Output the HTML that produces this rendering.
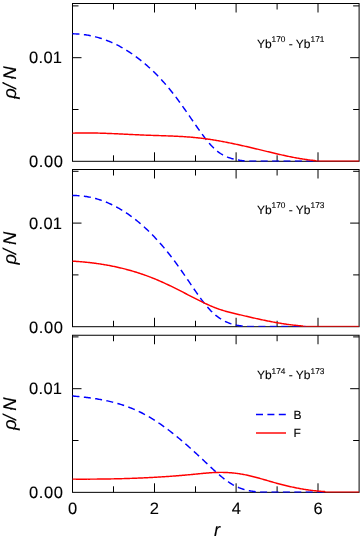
<!DOCTYPE html>
<html><head><meta charset="utf-8"><title>plot</title>
<style>
html,body{margin:0;padding:0;background:#fff;}
body{width:363px;height:538px;overflow:hidden;}
svg{display:block;will-change:transform;}
text{font-family:"Liberation Sans",sans-serif;fill:#000;text-rendering:geometricPrecision;stroke:#000;stroke-width:0.12px;}
.ax{stroke:#000;stroke-width:1;fill:none;shape-rendering:auto;}
.tk{stroke:#000;stroke-width:1;fill:none;}
.b{stroke:#0000ff;stroke-width:1.45;fill:none;stroke-dasharray:7 4.4;}
.r{stroke:#ff0000;stroke-width:1.45;fill:none;}
.t16{font-size:16.5px;}
.t12{font-size:12px;}
.sup{font-size:8.3px;}
.it{font-style:italic;font-size:18.4px;}
</style></head><body>
<svg width="363" height="538" viewBox="0 0 363 538">
<rect x="0" y="0" width="363" height="538" fill="#fff"/>

<g>
<rect class="ax" x="72.5" y="3.5" width="286.6" height="157.8"/>
<path class="tk" d="M113.5,161.3v-6 M113.5,3.5v6 M154.5,161.3v-9 M154.5,3.5v9 M195.5,161.3v-6 M195.5,3.5v6 M236.1,161.3v-9 M236.1,3.5v9 M277.1,161.3v-6 M277.1,3.5v6 M318.0,161.3v-9 M318.0,3.5v9 M72.5,109.5h6 M359.15,109.5h-6 M72.5,57.7h9 M359.15,57.7h-9 M72.5,5.9h6 M359.15,5.9h-6"/>
<path class="b" d="M72.5,33.80 L73.5,33.82 L74.5,33.85 L75.5,33.89 L76.5,33.93 L77.5,33.99 L78.5,34.06 L79.5,34.14 L80.5,34.23 L81.5,34.33 L82.5,34.44 L83.5,34.56 L84.5,34.69 L85.5,34.83 L86.5,34.98 L87.5,35.14 L88.5,35.32 L89.5,35.50 L90.5,35.69 L91.5,35.90 L92.5,36.12 L93.5,36.34 L94.5,36.58 L95.5,36.83 L96.5,37.09 L97.5,37.36 L98.5,37.65 L99.5,37.94 L100.5,38.25 L101.5,38.56 L102.5,38.89 L103.5,39.23 L104.5,39.58 L105.5,39.94 L106.5,40.32 L107.5,40.70 L108.5,41.10 L109.5,41.50 L110.5,41.92 L111.5,42.36 L112.5,42.80 L113.5,43.25 L114.5,43.72 L115.5,44.20 L116.5,44.69 L117.5,45.19 L118.5,45.71 L119.5,46.23 L120.5,46.77 L121.5,47.32 L122.5,47.88 L123.5,48.46 L124.5,49.05 L125.5,49.64 L126.5,50.26 L127.5,50.88 L128.5,51.52 L129.5,52.17 L130.5,52.83 L131.5,53.50 L132.5,54.19 L133.5,54.89 L134.5,55.60 L135.5,56.32 L136.5,57.06 L137.5,57.81 L138.5,58.57 L139.5,59.35 L140.5,60.14 L141.5,60.94 L142.5,61.76 L143.5,62.58 L144.5,63.42 L145.5,64.28 L146.5,65.15 L147.5,66.03 L148.5,66.92 L149.5,67.83 L150.5,68.75 L151.5,69.68 L152.5,70.63 L153.5,71.59 L154.5,72.57 L155.5,73.56 L156.5,74.56 L157.5,75.58 L158.5,76.61 L159.5,77.66 L160.5,78.72 L161.5,79.80 L162.5,80.89 L163.5,82.00 L164.5,83.13 L165.5,84.27 L166.5,85.42 L167.5,86.60 L168.5,87.78 L169.5,88.99 L170.5,90.21 L171.5,91.45 L172.5,92.70 L173.5,93.98 L174.5,95.26 L175.5,96.57 L176.5,97.89 L177.5,99.23 L178.5,100.59 L179.5,101.96 L180.5,103.34 L181.5,104.74 L182.5,106.14 L183.5,107.56 L184.5,108.98 L185.5,110.41 L186.5,111.84 L187.5,113.29 L188.5,114.73 L189.5,116.18 L190.5,117.63 L191.5,119.08 L192.5,120.52 L193.5,121.97 L194.5,123.41 L195.5,124.85 L196.5,126.28 L197.5,127.71 L198.5,129.12 L199.5,130.53 L200.5,131.93 L201.5,133.31 L202.5,134.68 L203.5,136.03 L204.5,137.36 L205.5,138.66 L206.5,139.93 L207.5,141.18 L208.5,142.39 L209.5,143.57 L210.5,144.71 L211.5,145.81 L212.5,146.86 L213.5,147.86 L214.5,148.82 L215.5,149.73 L216.5,150.58 L217.5,151.38 L218.5,152.14 L219.5,152.84 L220.5,153.51 L221.5,154.13 L222.5,154.71 L223.5,155.25 L224.5,155.76 L225.5,156.23 L226.5,156.67 L227.5,157.08 L228.5,157.46 L229.5,157.81 L230.5,158.13 L231.5,158.44 L232.5,158.72 L233.5,158.98 L234.5,159.23 L235.5,159.45 L236.5,159.67 L237.5,159.87 L238.5,160.05 L239.5,160.22 L240.5,160.38 L241.5,160.52 L242.5,160.66 L243.5,160.78 L244.5,160.90"/>
<path class="b" d="M244.5,160.90 L318.5,160.90" stroke-dashoffset="6.61" stroke-opacity="0.72"/>
<path class="r" d="M72.5,133.18 L73.5,133.15 L74.5,133.11 L75.5,133.08 L76.5,133.06 L77.5,133.04 L78.5,133.01 L79.5,133.00 L80.5,132.98 L81.5,132.97 L82.5,132.96 L83.5,132.95 L84.5,132.95 L85.5,132.95 L86.5,132.95 L87.5,132.95 L88.5,132.96 L89.5,132.96 L90.5,132.97 L91.5,132.98 L92.5,133.00 L93.5,133.01 L94.5,133.03 L95.5,133.05 L96.5,133.07 L97.5,133.09 L98.5,133.12 L99.5,133.14 L100.5,133.17 L101.5,133.20 L102.5,133.23 L103.5,133.26 L104.5,133.30 L105.5,133.33 L106.5,133.37 L107.5,133.41 L108.5,133.45 L109.5,133.48 L110.5,133.53 L111.5,133.57 L112.5,133.61 L113.5,133.65 L114.5,133.70 L115.5,133.74 L116.5,133.79 L117.5,133.83 L118.5,133.88 L119.5,133.93 L120.5,133.97 L121.5,134.02 L122.5,134.07 L123.5,134.12 L124.5,134.17 L125.5,134.22 L126.5,134.27 L127.5,134.31 L128.5,134.36 L129.5,134.41 L130.5,134.46 L131.5,134.51 L132.5,134.56 L133.5,134.61 L134.5,134.65 L135.5,134.70 L136.5,134.75 L137.5,134.79 L138.5,134.84 L139.5,134.89 L140.5,134.93 L141.5,134.97 L142.5,135.02 L143.5,135.06 L144.5,135.10 L145.5,135.14 L146.5,135.18 L147.5,135.22 L148.5,135.25 L149.5,135.29 L150.5,135.32 L151.5,135.36 L152.5,135.39 L153.5,135.42 L154.5,135.46 L155.5,135.49 L156.5,135.52 L157.5,135.55 L158.5,135.59 L159.5,135.62 L160.5,135.65 L161.5,135.68 L162.5,135.72 L163.5,135.75 L164.5,135.78 L165.5,135.82 L166.5,135.85 L167.5,135.89 L168.5,135.92 L169.5,135.96 L170.5,136.00 L171.5,136.04 L172.5,136.08 L173.5,136.12 L174.5,136.17 L175.5,136.21 L176.5,136.26 L177.5,136.31 L178.5,136.36 L179.5,136.41 L180.5,136.47 L181.5,136.52 L182.5,136.58 L183.5,136.65 L184.5,136.71 L185.5,136.78 L186.5,136.85 L187.5,136.92 L188.5,136.99 L189.5,137.07 L190.5,137.15 L191.5,137.23 L192.5,137.32 L193.5,137.41 L194.5,137.50 L195.5,137.60 L196.5,137.70 L197.5,137.81 L198.5,137.91 L199.5,138.02 L200.5,138.14 L201.5,138.26 L202.5,138.38 L203.5,138.51 L204.5,138.64 L205.5,138.77 L206.5,138.91 L207.5,139.05 L208.5,139.19 L209.5,139.34 L210.5,139.49 L211.5,139.64 L212.5,139.80 L213.5,139.96 L214.5,140.12 L215.5,140.29 L216.5,140.46 L217.5,140.63 L218.5,140.80 L219.5,140.98 L220.5,141.16 L221.5,141.34 L222.5,141.52 L223.5,141.71 L224.5,141.90 L225.5,142.09 L226.5,142.29 L227.5,142.48 L228.5,142.68 L229.5,142.88 L230.5,143.09 L231.5,143.29 L232.5,143.50 L233.5,143.71 L234.5,143.92 L235.5,144.13 L236.5,144.35 L237.5,144.56 L238.5,144.78 L239.5,145.00 L240.5,145.22 L241.5,145.44 L242.5,145.67 L243.5,145.89 L244.5,146.12 L245.5,146.35 L246.5,146.58 L247.5,146.81 L248.5,147.04 L249.5,147.27 L250.5,147.51 L251.5,147.74 L252.5,147.98 L253.5,148.22 L254.5,148.45 L255.5,148.69 L256.5,148.93 L257.5,149.17 L258.5,149.41 L259.5,149.65 L260.5,149.89 L261.5,150.13 L262.5,150.37 L263.5,150.62 L264.5,150.86 L265.5,151.10 L266.5,151.34 L267.5,151.58 L268.5,151.82 L269.5,152.07 L270.5,152.31 L271.5,152.54 L272.5,152.78 L273.5,153.02 L274.5,153.26 L275.5,153.49 L276.5,153.73 L277.5,153.96 L278.5,154.19 L279.5,154.42 L280.5,154.65 L281.5,154.88 L282.5,155.10 L283.5,155.32 L284.5,155.54 L285.5,155.76 L286.5,155.97 L287.5,156.19 L288.5,156.40 L289.5,156.60 L290.5,156.81 L291.5,157.01 L292.5,157.21 L293.5,157.40 L294.5,157.60 L295.5,157.78 L296.5,157.97 L297.5,158.15 L298.5,158.33 L299.5,158.50 L300.5,158.67 L301.5,158.83 L302.5,158.99 L303.5,159.15 L304.5,159.30 L305.5,159.45 L306.5,159.59 L307.5,159.73 L308.5,159.86 L309.5,159.99 L310.5,160.11 L311.5,160.23 L312.5,160.34 L313.5,160.45 L314.5,160.55 L315.5,160.64 L316.5,160.90"/>
<path class="r" d="M316.5,160.90 L317.5,160.90 L318.5,160.90 L319.5,160.90 L320.5,160.90 L321.5,160.90 L322.5,160.90 L323.5,160.90 L324.5,160.90 L325.5,160.90 L326.5,160.90 L327.5,160.90 L328.5,160.90 L329.5,160.90 L330.5,160.90 L331.5,160.90 L332.5,160.90 L333.5,160.90 L334.5,160.90 L335.5,160.90 L336.5,160.90 L337.5,160.90 L338.5,160.90 L339.5,160.90 L340.5,160.90 L341.5,160.90 L342.5,160.90 L343.5,160.90 L344.5,160.90 L345.5,160.90 L346.5,160.90 L347.5,160.90 L348.5,160.90 L349.5,160.90 L350.5,160.90 L351.5,160.90 L352.5,160.90 L353.5,160.90 L354.5,160.90 L355.5,160.90 L356.5,160.90 L357.5,160.90 L358.5,160.90 L359.1,160.90" stroke-opacity="0.68"/>
<text class="t16" x="28.95" y="167.2" letter-spacing="0.65">0.00</text>
<text class="t16" x="28.95" y="63.2" letter-spacing="0.45">0.0<tspan dx="-0.55">1</tspan></text>
<text class="it" transform="translate(15.8,98.7) rotate(-90)" x="0" y="0">ρ<tspan dx="-0.5">/</tspan><tspan dx="-1"> N</tspan></text>
<text class="t12" x="256.9" y="47.6">Yb<tspan class="sup" dy="-5.8">170</tspan><tspan dy="5.8"> - Yb</tspan><tspan class="sup" dy="-5.8">171</tspan></text>
</g>
<g>
<rect class="ax" x="72.5" y="169.5" width="286.6" height="157.2"/>
<path class="tk" d="M113.5,326.75v-6 M113.5,169.5v6 M154.5,326.75v-9 M154.5,169.5v9 M195.5,326.75v-6 M195.5,169.5v6 M236.1,326.75v-9 M236.1,169.5v9 M277.1,326.75v-6 M277.1,169.5v6 M318.0,326.75v-9 M318.0,169.5v9 M72.5,274.9h6 M359.15,274.9h-6 M72.5,223.1h9 M359.15,223.1h-9 M72.5,171.3h6 M359.15,171.3h-6"/>
<path class="b" d="M72.5,195.50 L73.5,195.50 L74.5,195.51 L75.5,195.54 L76.5,195.57 L77.5,195.62 L78.5,195.68 L79.5,195.75 L80.5,195.84 L81.5,195.93 L82.5,196.04 L83.5,196.16 L84.5,196.29 L85.5,196.44 L86.5,196.59 L87.5,196.76 L88.5,196.94 L89.5,197.13 L90.5,197.33 L91.5,197.55 L92.5,197.78 L93.5,198.02 L94.5,198.27 L95.5,198.54 L96.5,198.81 L97.5,199.10 L98.5,199.41 L99.5,199.72 L100.5,200.05 L101.5,200.39 L102.5,200.74 L103.5,201.10 L104.5,201.48 L105.5,201.87 L106.5,202.27 L107.5,202.69 L108.5,203.12 L109.5,203.56 L110.5,204.01 L111.5,204.48 L112.5,204.96 L113.5,205.45 L114.5,205.95 L115.5,206.47 L116.5,207.00 L117.5,207.55 L118.5,208.10 L119.5,208.67 L120.5,209.26 L121.5,209.85 L122.5,210.46 L123.5,211.08 L124.5,211.72 L125.5,212.37 L126.5,213.03 L127.5,213.71 L128.5,214.40 L129.5,215.10 L130.5,215.81 L131.5,216.54 L132.5,217.28 L133.5,218.04 L134.5,218.81 L135.5,219.59 L136.5,220.39 L137.5,221.20 L138.5,222.02 L139.5,222.86 L140.5,223.71 L141.5,224.58 L142.5,225.46 L143.5,226.35 L144.5,227.25 L145.5,228.17 L146.5,229.11 L147.5,230.06 L148.5,231.02 L149.5,231.99 L150.5,232.98 L151.5,233.99 L152.5,235.01 L153.5,236.04 L154.5,237.09 L155.5,238.15 L156.5,239.22 L157.5,240.31 L158.5,241.41 L159.5,242.53 L160.5,243.66 L161.5,244.81 L162.5,245.97 L163.5,247.15 L164.5,248.34 L165.5,249.54 L166.5,250.76 L167.5,251.99 L168.5,253.24 L169.5,254.51 L170.5,255.78 L171.5,257.08 L172.5,258.39 L173.5,259.71 L174.5,261.05 L175.5,262.40 L176.5,263.77 L177.5,265.15 L178.5,266.54 L179.5,267.95 L180.5,269.36 L181.5,270.79 L182.5,272.22 L183.5,273.66 L184.5,275.11 L185.5,276.56 L186.5,278.02 L187.5,279.49 L188.5,280.95 L189.5,282.42 L190.5,283.89 L191.5,285.36 L192.5,286.82 L193.5,288.29 L194.5,289.74 L195.5,291.19 L196.5,292.62 L197.5,294.04 L198.5,295.45 L199.5,296.84 L200.5,298.21 L201.5,299.56 L202.5,300.88 L203.5,302.18 L204.5,303.46 L205.5,304.70 L206.5,305.91 L207.5,307.09 L208.5,308.23 L209.5,309.33 L210.5,310.40 L211.5,311.42 L212.5,312.40 L213.5,313.33 L214.5,314.23 L215.5,315.08 L216.5,315.89 L217.5,316.66 L218.5,317.40 L219.5,318.09 L220.5,318.75 L221.5,319.38 L222.5,319.97 L223.5,320.53 L224.5,321.05 L225.5,321.54 L226.5,322.01 L227.5,322.44 L228.5,322.84 L229.5,323.22 L230.5,323.57 L231.5,323.89 L232.5,324.19 L233.5,324.47 L234.5,324.72 L235.5,324.95 L236.5,325.16 L237.5,325.35 L238.5,325.52 L239.5,325.67 L240.5,325.81 L241.5,325.93 L242.5,326.04 L243.5,326.13 L244.5,326.20 L245.5,326.35"/>
<path class="b" d="M245.5,326.35 L305.5,326.35" stroke-dashoffset="9.88" stroke-opacity="0.72"/>
<path class="r" d="M72.5,261.15 L73.5,261.21 L74.5,261.27 L75.5,261.34 L76.5,261.41 L77.5,261.48 L78.5,261.55 L79.5,261.63 L80.5,261.71 L81.5,261.79 L82.5,261.88 L83.5,261.97 L84.5,262.06 L85.5,262.16 L86.5,262.26 L87.5,262.37 L88.5,262.47 L89.5,262.59 L90.5,262.70 L91.5,262.82 L92.5,262.94 L93.5,263.06 L94.5,263.19 L95.5,263.33 L96.5,263.46 L97.5,263.60 L98.5,263.75 L99.5,263.89 L100.5,264.04 L101.5,264.20 L102.5,264.36 L103.5,264.52 L104.5,264.69 L105.5,264.86 L106.5,265.03 L107.5,265.21 L108.5,265.40 L109.5,265.58 L110.5,265.78 L111.5,265.97 L112.5,266.17 L113.5,266.37 L114.5,266.58 L115.5,266.80 L116.5,267.01 L117.5,267.23 L118.5,267.46 L119.5,267.69 L120.5,267.92 L121.5,268.16 L122.5,268.41 L123.5,268.65 L124.5,268.91 L125.5,269.16 L126.5,269.43 L127.5,269.69 L128.5,269.96 L129.5,270.24 L130.5,270.52 L131.5,270.81 L132.5,271.10 L133.5,271.39 L134.5,271.69 L135.5,272.00 L136.5,272.31 L137.5,272.63 L138.5,272.95 L139.5,273.27 L140.5,273.60 L141.5,273.94 L142.5,274.28 L143.5,274.62 L144.5,274.97 L145.5,275.33 L146.5,275.69 L147.5,276.06 L148.5,276.43 L149.5,276.81 L150.5,277.19 L151.5,277.58 L152.5,277.98 L153.5,278.38 L154.5,278.78 L155.5,279.19 L156.5,279.61 L157.5,280.03 L158.5,280.46 L159.5,280.89 L160.5,281.33 L161.5,281.77 L162.5,282.22 L163.5,282.68 L164.5,283.13 L165.5,283.60 L166.5,284.06 L167.5,284.53 L168.5,285.01 L169.5,285.49 L170.5,285.97 L171.5,286.46 L172.5,286.95 L173.5,287.44 L174.5,287.93 L175.5,288.43 L176.5,288.93 L177.5,289.43 L178.5,289.93 L179.5,290.44 L180.5,290.95 L181.5,291.45 L182.5,291.96 L183.5,292.48 L184.5,292.99 L185.5,293.50 L186.5,294.01 L187.5,294.53 L188.5,295.04 L189.5,295.55 L190.5,296.06 L191.5,296.58 L192.5,297.09 L193.5,297.60 L194.5,298.11 L195.5,298.62 L196.5,299.13 L197.5,299.63 L198.5,300.13 L199.5,300.63 L200.5,301.13 L201.5,301.62 L202.5,302.11 L203.5,302.59 L204.5,303.07 L205.5,303.54 L206.5,304.01 L207.5,304.47 L208.5,304.93 L209.5,305.37 L210.5,305.81 L211.5,306.24 L212.5,306.66 L213.5,307.07 L214.5,307.48 L215.5,307.87 L216.5,308.25 L217.5,308.63 L218.5,308.99 L219.5,309.34 L220.5,309.67 L221.5,310.00 L222.5,310.31 L223.5,310.61 L224.5,310.91 L225.5,311.19 L226.5,311.47 L227.5,311.74 L228.5,312.00 L229.5,312.26 L230.5,312.51 L231.5,312.76 L232.5,313.01 L233.5,313.25 L234.5,313.49 L235.5,313.73 L236.5,313.96 L237.5,314.20 L238.5,314.44 L239.5,314.68 L240.5,314.91 L241.5,315.15 L242.5,315.39 L243.5,315.62 L244.5,315.86 L245.5,316.09 L246.5,316.32 L247.5,316.56 L248.5,316.79 L249.5,317.02 L250.5,317.25 L251.5,317.48 L252.5,317.71 L253.5,317.93 L254.5,318.16 L255.5,318.38 L256.5,318.61 L257.5,318.83 L258.5,319.05 L259.5,319.26 L260.5,319.48 L261.5,319.69 L262.5,319.90 L263.5,320.11 L264.5,320.32 L265.5,320.53 L266.5,320.73 L267.5,320.93 L268.5,321.13 L269.5,321.33 L270.5,321.52 L271.5,321.71 L272.5,321.90 L273.5,322.09 L274.5,322.27 L275.5,322.45 L276.5,322.63 L277.5,322.80 L278.5,322.97 L279.5,323.14 L280.5,323.30 L281.5,323.47 L282.5,323.62 L283.5,323.78 L284.5,323.93 L285.5,324.08 L286.5,324.22 L287.5,324.36 L288.5,324.49 L289.5,324.62 L290.5,324.75 L291.5,324.88 L292.5,324.99 L293.5,325.11 L294.5,325.22 L295.5,325.33 L296.5,325.43 L297.5,325.53 L298.5,325.62 L299.5,325.71 L300.5,325.79 L301.5,325.87 L302.5,325.94 L303.5,326.35"/>
<path class="r" d="M303.5,326.35 L304.5,326.35 L305.5,326.35 L306.5,326.35 L307.5,326.35 L308.5,326.35 L309.5,326.35 L310.5,326.35 L311.5,326.35 L312.5,326.35 L313.5,326.35 L314.5,326.35 L315.5,326.35 L316.5,326.35 L317.5,326.35 L318.5,326.35 L319.5,326.35 L320.5,326.35 L321.5,326.35 L322.5,326.35 L323.5,326.35 L324.5,326.35 L325.5,326.35 L326.5,326.35 L327.5,326.35 L328.5,326.35 L329.5,326.35 L330.5,326.35 L331.5,326.35 L332.5,326.35 L333.5,326.35 L334.5,326.35 L335.5,326.35 L336.5,326.35 L337.5,326.35 L338.5,326.35 L339.5,326.35 L340.5,326.35 L341.5,326.35 L342.5,326.35 L343.5,326.35 L344.5,326.35 L345.5,326.35 L346.5,326.35 L347.5,326.35 L348.5,326.35 L349.5,326.35 L350.5,326.35 L351.5,326.35 L352.5,326.35 L353.5,326.35 L354.5,326.35 L355.5,326.35 L356.5,326.35 L357.5,326.35 L358.5,326.35 L359.1,326.35" stroke-opacity="0.68"/>
<text class="t16" x="28.95" y="332.6" letter-spacing="0.65">0.00</text>
<text class="t16" x="28.95" y="228.6" letter-spacing="0.45">0.0<tspan dx="-0.55">1</tspan></text>
<text class="it" transform="translate(15.8,264.4) rotate(-90)" x="0" y="0">ρ<tspan dx="-0.5">/</tspan><tspan dx="-1"> N</tspan></text>
<text class="t12" x="256.9" y="213.6">Yb<tspan class="sup" dy="-5.8">170</tspan><tspan dy="5.8"> - Yb</tspan><tspan class="sup" dy="-5.8">173</tspan></text>
</g>
<g>
<rect class="ax" x="72.5" y="335.25" width="286.6" height="157.1"/>
<path class="tk" d="M113.5,492.3v-6 M113.5,335.25v6 M154.5,492.3v-9 M154.5,335.25v9 M195.5,492.3v-6 M195.5,335.25v6 M236.1,492.3v-9 M236.1,335.25v9 M277.1,492.3v-6 M277.1,335.25v6 M318.0,492.3v-9 M318.0,335.25v9 M72.5,440.5h6 M359.15,440.5h-6 M72.5,388.7h9 M359.15,388.7h-9 M72.5,336.9h6 M359.15,336.9h-6"/>
<path class="b" d="M72.5,395.97 L73.5,396.06 L74.5,396.16 L75.5,396.25 L76.5,396.35 L77.5,396.44 L78.5,396.54 L79.5,396.64 L80.5,396.75 L81.5,396.85 L82.5,396.96 L83.5,397.07 L84.5,397.19 L85.5,397.31 L86.5,397.43 L87.5,397.55 L88.5,397.68 L89.5,397.81 L90.5,397.94 L91.5,398.08 L92.5,398.22 L93.5,398.37 L94.5,398.52 L95.5,398.67 L96.5,398.83 L97.5,399.00 L98.5,399.16 L99.5,399.34 L100.5,399.52 L101.5,399.70 L102.5,399.89 L103.5,400.08 L104.5,400.28 L105.5,400.48 L106.5,400.70 L107.5,400.91 L108.5,401.14 L109.5,401.36 L110.5,401.60 L111.5,401.84 L112.5,402.09 L113.5,402.34 L114.5,402.61 L115.5,402.88 L116.5,403.15 L117.5,403.43 L118.5,403.73 L119.5,404.02 L120.5,404.33 L121.5,404.64 L122.5,404.97 L123.5,405.29 L124.5,405.63 L125.5,405.98 L126.5,406.33 L127.5,406.70 L128.5,407.07 L129.5,407.45 L130.5,407.84 L131.5,408.24 L132.5,408.65 L133.5,409.07 L134.5,409.49 L135.5,409.93 L136.5,410.38 L137.5,410.83 L138.5,411.30 L139.5,411.78 L140.5,412.27 L141.5,412.76 L142.5,413.27 L143.5,413.79 L144.5,414.32 L145.5,414.86 L146.5,415.42 L147.5,415.98 L148.5,416.55 L149.5,417.13 L150.5,417.73 L151.5,418.33 L152.5,418.94 L153.5,419.57 L154.5,420.20 L155.5,420.84 L156.5,421.50 L157.5,422.16 L158.5,422.83 L159.5,423.51 L160.5,424.20 L161.5,424.89 L162.5,425.60 L163.5,426.31 L164.5,427.04 L165.5,427.77 L166.5,428.51 L167.5,429.25 L168.5,430.01 L169.5,430.77 L170.5,431.54 L171.5,432.32 L172.5,433.10 L173.5,433.89 L174.5,434.69 L175.5,435.50 L176.5,436.31 L177.5,437.13 L178.5,437.95 L179.5,438.78 L180.5,439.62 L181.5,440.47 L182.5,441.32 L183.5,442.17 L184.5,443.03 L185.5,443.90 L186.5,444.77 L187.5,445.65 L188.5,446.53 L189.5,447.42 L190.5,448.31 L191.5,449.21 L192.5,450.11 L193.5,451.02 L194.5,451.93 L195.5,452.84 L196.5,453.76 L197.5,454.68 L198.5,455.61 L199.5,456.54 L200.5,457.47 L201.5,458.41 L202.5,459.35 L203.5,460.29 L204.5,461.24 L205.5,462.19 L206.5,463.14 L207.5,464.08 L208.5,465.03 L209.5,465.97 L210.5,466.91 L211.5,467.85 L212.5,468.77 L213.5,469.70 L214.5,470.61 L215.5,471.52 L216.5,472.41 L217.5,473.29 L218.5,474.17 L219.5,475.03 L220.5,475.87 L221.5,476.70 L222.5,477.51 L223.5,478.31 L224.5,479.09 L225.5,479.84 L226.5,480.58 L227.5,481.30 L228.5,481.99 L229.5,482.66 L230.5,483.30 L231.5,483.92 L232.5,484.52 L233.5,485.08 L234.5,485.62 L235.5,486.12 L236.5,486.61 L237.5,487.06 L238.5,487.49 L239.5,487.90 L240.5,488.28 L241.5,488.64 L242.5,488.98 L243.5,489.30 L244.5,489.59 L245.5,489.87 L246.5,490.12 L247.5,490.36 L248.5,490.58 L249.5,490.78 L250.5,490.96 L251.5,491.13 L252.5,491.28 L253.5,491.42 L254.5,491.55 L255.5,491.66 L256.5,491.76 L257.5,491.90"/>
<path class="b" d="M257.5,491.90 L327.5,491.90" stroke-dashoffset="8.81" stroke-opacity="0.72"/>
<path class="r" d="M72.5,479.13 L73.5,479.14 L74.5,479.14 L75.5,479.15 L76.5,479.15 L77.5,479.15 L78.5,479.16 L79.5,479.16 L80.5,479.16 L81.5,479.16 L82.5,479.16 L83.5,479.16 L84.5,479.16 L85.5,479.16 L86.5,479.16 L87.5,479.15 L88.5,479.15 L89.5,479.15 L90.5,479.14 L91.5,479.14 L92.5,479.13 L93.5,479.13 L94.5,479.12 L95.5,479.11 L96.5,479.10 L97.5,479.09 L98.5,479.08 L99.5,479.07 L100.5,479.06 L101.5,479.05 L102.5,479.04 L103.5,479.03 L104.5,479.01 L105.5,479.00 L106.5,478.98 L107.5,478.97 L108.5,478.95 L109.5,478.93 L110.5,478.92 L111.5,478.90 L112.5,478.88 L113.5,478.86 L114.5,478.84 L115.5,478.82 L116.5,478.79 L117.5,478.77 L118.5,478.75 L119.5,478.72 L120.5,478.70 L121.5,478.67 L122.5,478.64 L123.5,478.61 L124.5,478.58 L125.5,478.56 L126.5,478.52 L127.5,478.49 L128.5,478.46 L129.5,478.43 L130.5,478.39 L131.5,478.36 L132.5,478.32 L133.5,478.29 L134.5,478.25 L135.5,478.21 L136.5,478.17 L137.5,478.13 L138.5,478.09 L139.5,478.05 L140.5,478.01 L141.5,477.97 L142.5,477.92 L143.5,477.88 L144.5,477.83 L145.5,477.78 L146.5,477.73 L147.5,477.69 L148.5,477.64 L149.5,477.59 L150.5,477.53 L151.5,477.48 L152.5,477.43 L153.5,477.37 L154.5,477.32 L155.5,477.26 L156.5,477.20 L157.5,477.14 L158.5,477.08 L159.5,477.02 L160.5,476.96 L161.5,476.90 L162.5,476.83 L163.5,476.77 L164.5,476.70 L165.5,476.64 L166.5,476.57 L167.5,476.50 L168.5,476.43 L169.5,476.36 L170.5,476.29 L171.5,476.21 L172.5,476.14 L173.5,476.06 L174.5,475.99 L175.5,475.91 L176.5,475.83 L177.5,475.75 L178.5,475.67 L179.5,475.59 L180.5,475.50 L181.5,475.42 L182.5,475.33 L183.5,475.24 L184.5,475.16 L185.5,475.07 L186.5,474.98 L187.5,474.89 L188.5,474.79 L189.5,474.70 L190.5,474.60 L191.5,474.51 L192.5,474.41 L193.5,474.31 L194.5,474.21 L195.5,474.11 L196.5,474.01 L197.5,473.91 L198.5,473.81 L199.5,473.71 L200.5,473.62 L201.5,473.52 L202.5,473.43 L203.5,473.33 L204.5,473.24 L205.5,473.16 L206.5,473.07 L207.5,472.99 L208.5,472.91 L209.5,472.84 L210.5,472.77 L211.5,472.71 L212.5,472.65 L213.5,472.59 L214.5,472.54 L215.5,472.50 L216.5,472.46 L217.5,472.43 L218.5,472.41 L219.5,472.39 L220.5,472.38 L221.5,472.38 L222.5,472.39 L223.5,472.41 L224.5,472.43 L225.5,472.46 L226.5,472.50 L227.5,472.55 L228.5,472.61 L229.5,472.68 L230.5,472.75 L231.5,472.83 L232.5,472.92 L233.5,473.02 L234.5,473.13 L235.5,473.24 L236.5,473.37 L237.5,473.50 L238.5,473.64 L239.5,473.79 L240.5,473.95 L241.5,474.11 L242.5,474.29 L243.5,474.47 L244.5,474.66 L245.5,474.86 L246.5,475.07 L247.5,475.28 L248.5,475.50 L249.5,475.73 L250.5,475.97 L251.5,476.21 L252.5,476.46 L253.5,476.71 L254.5,476.97 L255.5,477.23 L256.5,477.50 L257.5,477.77 L258.5,478.04 L259.5,478.32 L260.5,478.60 L261.5,478.88 L262.5,479.17 L263.5,479.46 L264.5,479.74 L265.5,480.03 L266.5,480.32 L267.5,480.62 L268.5,480.91 L269.5,481.20 L270.5,481.49 L271.5,481.77 L272.5,482.06 L273.5,482.35 L274.5,482.63 L275.5,482.91 L276.5,483.19 L277.5,483.46 L278.5,483.73 L279.5,484.00 L280.5,484.26 L281.5,484.52 L282.5,484.77 L283.5,485.03 L284.5,485.27 L285.5,485.52 L286.5,485.75 L287.5,485.99 L288.5,486.22 L289.5,486.45 L290.5,486.67 L291.5,486.89 L292.5,487.11 L293.5,487.32 L294.5,487.53 L295.5,487.73 L296.5,487.93 L297.5,488.13 L298.5,488.32 L299.5,488.50 L300.5,488.69 L301.5,488.86 L302.5,489.04 L303.5,489.21 L304.5,489.37 L305.5,489.53 L306.5,489.69 L307.5,489.84 L308.5,489.98 L309.5,490.12 L310.5,490.25 L311.5,490.38 L312.5,490.50 L313.5,490.62 L314.5,490.73 L315.5,490.84 L316.5,490.94 L317.5,491.04 L318.5,491.13 L319.5,491.22 L320.5,491.30 L321.5,491.38 L322.5,491.45 L323.5,491.52 L324.5,491.58 L325.5,491.90"/>
<path class="r" d="M325.5,491.90 L326.5,491.90 L327.5,491.90 L328.5,491.90 L329.5,491.90 L330.5,491.90 L331.5,491.90 L332.5,491.90 L333.5,491.90 L334.5,491.90 L335.5,491.90 L336.5,491.90 L337.5,491.90 L338.5,491.90 L339.5,491.90 L340.5,491.90 L341.5,491.90 L342.5,491.90 L343.5,491.90 L344.5,491.90 L345.5,491.90 L346.5,491.90 L347.5,491.90 L348.5,491.90 L349.5,491.90 L350.5,491.90 L351.5,491.90 L352.5,491.90 L353.5,491.90 L354.5,491.90 L355.5,491.90 L356.5,491.90 L357.5,491.90 L358.5,491.90 L359.1,491.90" stroke-opacity="0.68"/>
<text class="t16" x="28.95" y="498.2" letter-spacing="0.65">0.00</text>
<text class="t16" x="28.95" y="394.2" letter-spacing="0.45">0.0<tspan dx="-0.55">1</tspan></text>
<text class="it" transform="translate(15.8,430.1) rotate(-90)" x="0" y="0">ρ<tspan dx="-0.5">/</tspan><tspan dx="-1"> N</tspan></text>
<text class="t12" x="256.9" y="379.4">Yb<tspan class="sup" dy="-5.8">174</tspan><tspan dy="5.8"> - Yb</tspan><tspan class="sup" dy="-5.8">173</tspan></text>
</g>
<text class="t16" x="72.5" y="514.0" text-anchor="middle">0</text>
<text class="t16" x="154.4" y="514.0" text-anchor="middle">2</text>
<text class="t16" x="236.3" y="514.0" text-anchor="middle">4</text>
<text class="t16" x="318.2" y="514.0" text-anchor="middle">6</text>
<text class="it" x="217.0" y="535.9" text-anchor="middle">r</text>
<path class="b" d="M256,414.45H286"/>
<path class="r" d="M256,433H286"/>
<text style="font-size:12px" x="293.5" y="418.6">B</text>
<text style="font-size:12px" x="293.5" y="437.1">F</text>
</svg></body></html>
